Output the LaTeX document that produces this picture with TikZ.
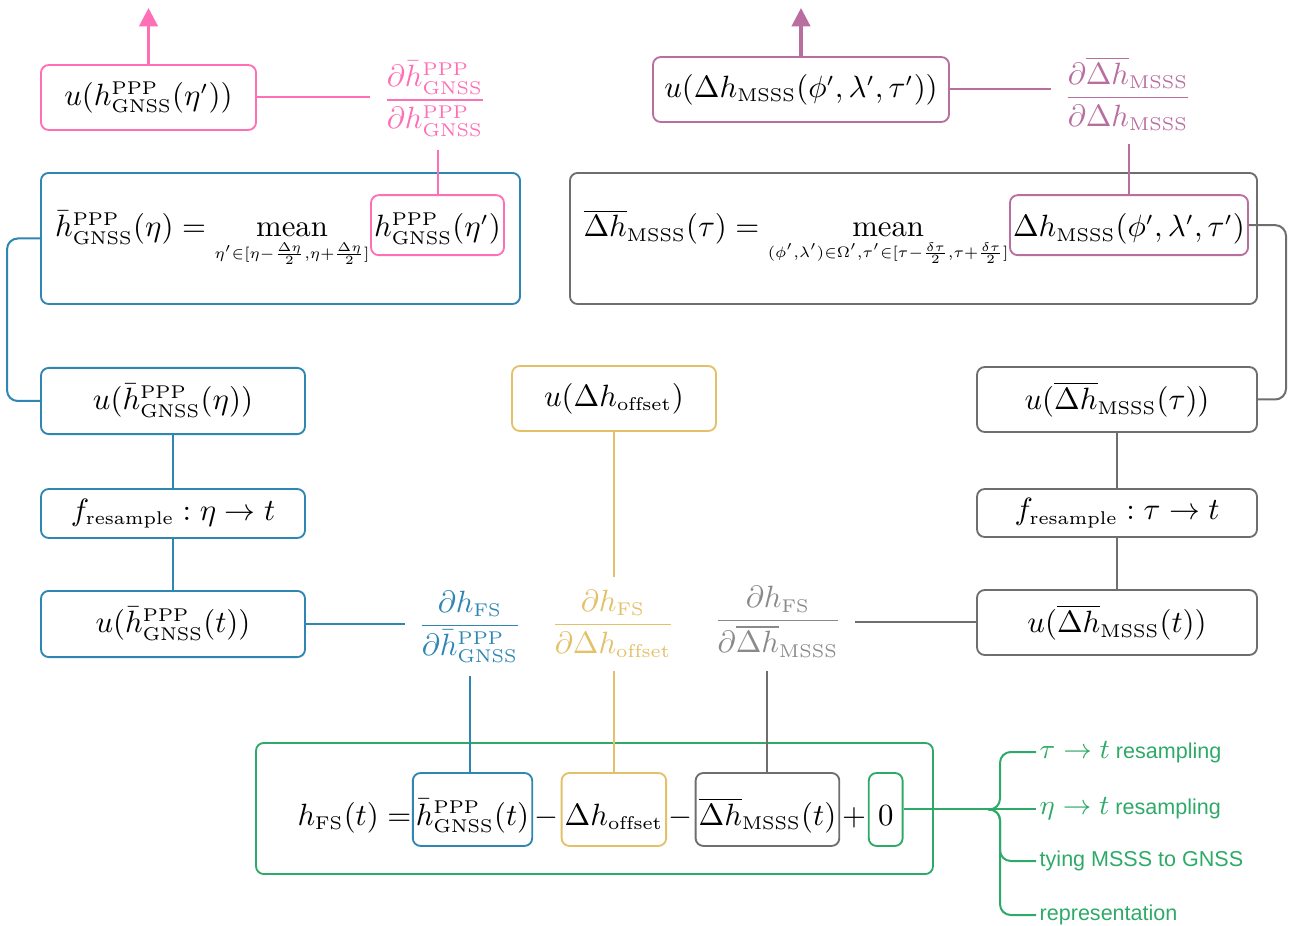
\documentclass[tikz,border=0pt]{standalone}
\usepackage{amsmath}
\usepackage{graphicx}
\usepackage{fontspec}
\newfontfamily\notefont{Liberation Sans}
\usepackage{tikz}
\usetikzlibrary{arrows.meta}
\usetikzlibrary{positioning}
\DeclareMathSizes{10}{10}{6}{4.7}
\definecolor{ppink}{HTML}{FF6FB5}
\definecolor{pmauve}{HTML}{B86FA0}
\definecolor{gblue}{HTML}{2F86B3}
\definecolor{oyellow}{HTML}{E3C169}
\definecolor{mgray}{HTML}{6E6E6E}
\definecolor{lgray}{HTML}{8A8A8A}
\definecolor{fsgreen}{HTML}{2EAA68}
\newcommand\hppp{\bar h^{\mathrm{PPP}}_{\mathrm{GNSS}}}
\newcommand\hraw{h^{\mathrm{PPP}}_{\mathrm{GNSS}}}
\newcommand\dmsss{\overline{\Delta h}_{\mathrm{MSSS}}}
\newcommand\dhmsss{\Delta h_{\mathrm{MSSS}}}
\newcommand\hfs{h_{\mathrm{FS}}}
\newcommand\hoff{\Delta h_{\mathrm{offset}}}
\newcommand\mean[1]{\mathop{\mathrm{mean}}\limits_{\scalebox{.82}{$\scriptstyle #1$}}}
\newcommand\rsmp{f_{\mathrm{resample}}}
\tikzstyle{box}=[draw, rounded corners=2.5pt, line width=.6pt, inner sep=0pt]
\tikzstyle{inbox}=[draw, rounded corners=2.5pt, line width=.6pt, inner xsep=1pt, inner ysep=2pt]
\tikzstyle{avgbox}=[inbox, anchor=base, text height=11.6pt, text depth=3.9pt]
\tikzstyle{fsbox}=[inbox, text height=14.9pt, text depth=4.8pt]
\tikzstyle{op}=[inner xsep=.4pt, inner ysep=0pt]
\tikzstyle{link}=[line width=.65pt]
\tikzstyle{up}=[line width=1pt, -{Triangle[length=6pt,width=6pt]}]
\tikzstyle{frac}=[inner sep=4pt]
\tikzstyle{note}=[anchor=west, inner sep=1pt, font=\notefont\fontsize{7}{9}\selectfont, text=fsgreen]
\newcommand\mto[2]{{\fontsize{9}{10}\selectfont$#1\to #2$}}

\begin{document}
\begin{tikzpicture}[x=.325pt, y=-.325pt]
	\useasboundingbox (0,0) rectangle (1291,926);
	% top row
	\node[box, draw=ppink, minimum width=69.9pt, minimum height=21.1pt] (p1) at (148.5,97.5) {$u(\hraw(\eta'))$};
	\coordinate (p0) at (148.5,8);
	\draw[up, ppink] (p1) -- (p0);
	\node[frac, text=ppink] (fp) at (435,99) {$\displaystyle\frac{\partial\hppp}{\partial\hraw}$};
	\draw[link, ppink] (p1.east) -- (p1.east -| fp.west);
	\node[box, draw=pmauve, minimum width=96.2pt, minimum height=21.1pt] (m1) at (801,89.5) {$u(\dhmsss(\phi',\lambda',\tau'))$};
	\coordinate (m0) at (801,8);
	\draw[up, pmauve] (m1) -- (m0);
	\node[frac, text=pmauve] (fm) at (1128,94) {$\displaystyle\frac{\partial\dmsss}{\partial\dhmsss}$};
	\draw[link, pmauve] (m1.east) -- (m1.east -| fm.west);

	% averaging
	\node[box, draw=gblue, minimum width=155.7pt, minimum height=42.6pt] (bmean) at (280.5,238.5) {};
	\node[avgbox, draw=ppink] (pin) at (437.5,237) {$\hraw(\eta')$};
	\node[inner sep=0pt, base left=0pt of pin] (beq) {$\hppp(\eta) = \mean{\eta'\in[\eta-\frac{\Delta\eta}{2},\eta+\frac{\Delta\eta}{2}]}$};
	\draw[link, ppink] (pin.north) -- (pin.north |- fp.south);
	\node[box, draw=mgray, minimum width=223.3pt, minimum height=42.6pt] (gmean) at (913.5,238.5) {};
	\node[avgbox, draw=pmauve] (min) at (1129,237) {$\dhmsss(\phi',\lambda',\tau')$};
	\node[inner sep=0pt, base left=0pt of min] (geq) {$\dmsss(\tau) = \mean{(\phi',\lambda')\in\Omega',\tau'\in[\tau-\frac{\delta\tau}{2},\tau+\frac{\delta\tau}{2}]}$};
	\draw[link, pmauve] (min.north) -- (min.north |- fm.south);

	% GNSS column
	\node[box, draw=gblue, minimum width=85.8pt, minimum height=21.5pt] (b2) at (173,401) {$u(\hppp(\eta))$};
	\node[box, draw=gblue, minimum width=85.8pt, minimum height=15.9pt] (b3) at (173,513.5) {$\rsmp : \eta\to t$};
	\node[box, draw=gblue, minimum width=85.8pt, minimum height=21.5pt] (b4) at (173,624) {$u(\hppp(t))$};
	\draw[link, gblue] (b2) -- (b3);
	\draw[link, gblue] (b3) -- (b4);
	\draw[link, gblue, rounded corners=3.5pt] (bmean.west) -- ++(-33,0) |- (b2.west);

	% MSSS column
	\node[box, draw=mgray, minimum width=91pt, minimum height=21.1pt] (g2) at (1117,399.5) {$u(\dmsss(\tau))$};
	\node[box, draw=mgray, minimum width=91pt, minimum height=15.6pt] (g3) at (1117,513) {$\rsmp : \tau\to t$};
	\node[box, draw=mgray, minimum width=91pt, minimum height=21.1pt] (g4) at (1117,622.5) {$u(\dmsss(t))$};
	\draw[link, mgray] (g2) -- (g3);
	\draw[link, mgray] (g3) -- (g4);
	\coordinate (rx) at (1286,0);
	\draw[link, mgray, rounded corners=3.5pt] (min.east) -- (min.east -| rx) |- (g2.east);

	\node[box, draw=oyellow, minimum width=66.3pt, minimum height=21.1pt] (y1) at (614,398.5) {$u(\hoff)$};

	% sensitivities
	\node[frac, text=gblue] (fb) at (470,627) {$\displaystyle\frac{\partial\hfs}{\partial\hppp}$};
	\node[frac, text=oyellow] (fy) at (613,624) {$\displaystyle\frac{\partial\hfs}{\partial\hoff}$};
	\node[frac, text=lgray] (fg) at (778,622) {$\displaystyle\frac{\partial\hfs}{\partial\dmsss}$};
	\draw[link, gblue] (b4.east) -- (b4.east -| fb.west);
	\draw[link, oyellow] (y1.south) -- (y1.south |- fy.north);
	\draw[link, mgray] (fg.east) -- (fg.east -| g4.west);

	% freeboard equation
	\node[box, draw=fsgreen, minimum width=220pt, minimum height=42.6pt] (fs) at (594.5,808.5) {};
	\node[fsbox, draw=gblue, anchor=base] (gin) at (472.5,825) {$\hppp(t)$};
	\node[inner sep=0pt, base left=0pt of gin] (lhs) {$\hfs(t) =$};
	\node[op, base right=0pt of gin] (op1) {$-$};
	\node[fsbox, draw=oyellow, base right=0pt of op1] (yin) {$\hoff$};
	\node[op, base right=0pt of yin] (op2) {$-$};
	\node[fsbox, draw=mgray, base right=0pt of op2] (gin2) {$\dmsss(t)$};
	\node[op, base right=0pt of gin2] (op3) {$+$};
	\node[fsbox, draw=fsgreen, minimum width=11pt, base right=0pt of op3] (zin) {$0$};
	\draw[link, gblue] (fb.south) -- (fb.south |- gin.north);
	\draw[link, oyellow] (yin.north) -- (yin.north |- fy.south);
	\draw[link, mgray] (gin2.north) -- (gin2.north |- fg.south);

	% zero term
	\coordinate (bx) at (988,0);
	\coordinate (br) at (zin.east -| bx);
	\node[note] (t1) at (1036,752) {\mto\tau t resampling};
	\node[note] (t2) at (1036,809) {\mto\eta t resampling};
	\node[note] (t3) at (1036,861) {tying MSSS to GNSS};
	\node[note] (t4) at (1036,915) {representation};
	\draw[link, fsgreen] (zin.east) -- (br);
	\draw[link, fsgreen, rounded corners=3.5pt] (br) -- ++(12,0) |- (t1.west);
	\draw[link, fsgreen] (br) -- (br -| t2.west);
	\draw[link, fsgreen, rounded corners=3.5pt] (br) -- ++(12,0) |- (t3.west);
	\draw[link, fsgreen, rounded corners=3.5pt] (br) -- ++(12,0) |- (t4.west);
\end{tikzpicture}
\end{document}
